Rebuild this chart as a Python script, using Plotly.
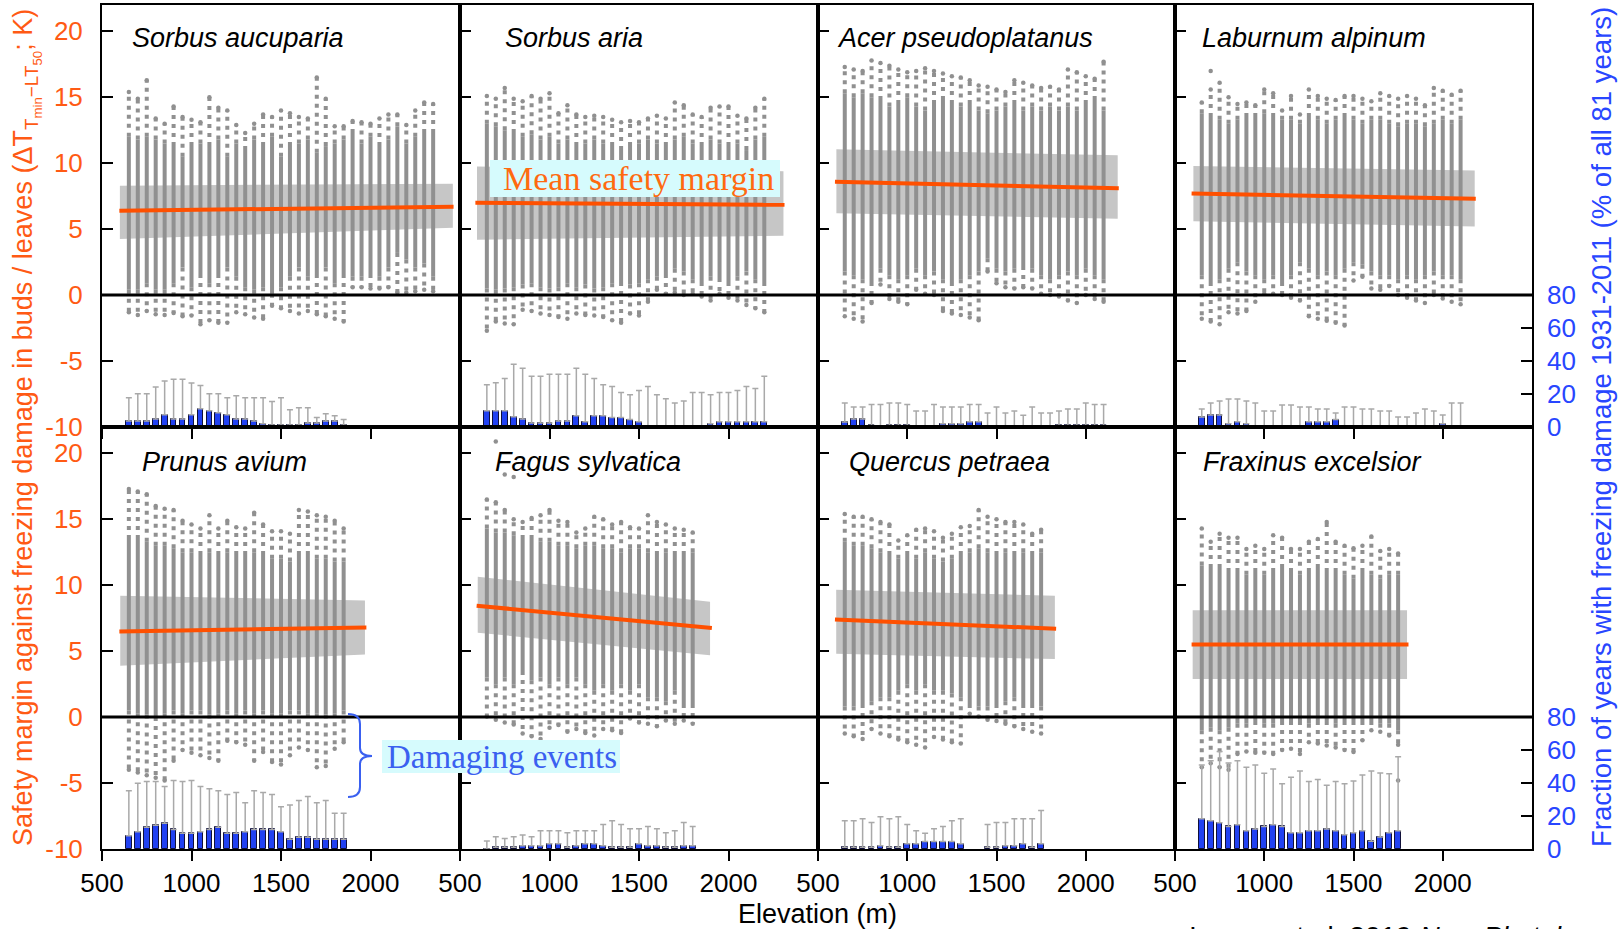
import plotly.graph_objects as go

# ------------------------------------------------------------------ data
SPECIES = ["Sorbus aucuparia", "Sorbus aria", "Acer pseudoplatanus", "Laburnum alpinum",
           "Prunus avium", "Fagus sylvatica", "Quercus petraea", "Fraxinus excelsior"]

X_TICKS = [500, 1000, 1500, 2000]
Y_TICKS = [-10, -5, 0, 5, 10, 15, 20]
Y_TICK_TEXT = ["-10", "-5", "0", "5", "10", "15", "20"]
F_TICKS = [0, 20, 40, 60, 80]

# --- Sorbus aucuparia
ELEV_SAU = [650, 700, 750, 800, 850, 900, 950, 1000, 1050, 1100, 1150, 1200, 1250, 1300, 1350, 1400, 1450,
            1500, 1550, 1600, 1650, 1700, 1750, 1800, 1850, 1900, 1950, 2000, 2050, 2100, 2150, 2200, 2250,
            2300, 2350]
TOP_SAU = [15.4, 14.9, 16.3, 13.4, 13.0, 14.3, 13.5, 13.3, 13.1, 15.0, 14.2, 14.0, 12.9, 12.3, 13.0, 13.7, 13.5,
           14.0, 13.8, 13.5, 13.4, 16.5, 14.9, 12.8, 12.8, 13.2, 13.1, 13.0, 13.4, 13.7, 13.7, 12.9, 14.0, 14.6, 14.5]
HI_SAU = [12.0, 11.8, 12.0, 11.8, 11.5, 11.3, 10.5, 11.3, 11.5, 11.3, 11.8, 10.5, 11.5, 11.0, 11.8, 11.3, 12.0,
          10.5, 11.3, 11.5, 11.8, 10.8, 11.3, 11.5, 11.8, 12.3, 11.5, 12.0, 11.3, 11.8, 12.8, 11.5, 12.0, 12.3, 12.3]
LO_SAU = [0.4, 0.4, 0.9, 0.4, 0.4, 0.9, 2.1, 0.6, 1.6, 0.9, 1.6, 2.1, 1.4, 0.6, 0.4, 0.6, 0.1,
          0.6, 1.4, 2.1, 1.4, 1.6, 2.1, 0.9, 1.6, 1.4, 1.4, 1.6, 1.4, 2.1, 3.2, 2.7, 2.1, 2.4, 1.4]
BOT_SAU = [-1.3, -1.5, -1.2, -1.45, -1.5, -1.35, -1.6, -1.55, -2.2, -1.9, -2.1, -2.1, -1.3, -1.45, -1.7, -1.8,
           -0.8, -1.0, -1.2, -1.4, -1.2, -1.45, -1.6, -1.8, -2.0, 0.6, 0.6, 0.5, 0.5, 0.6, 0.2, 0.2, 0.3, 0.4, 0.3]
FRAC_SAU = [3.7, 3.7, 3.7, 4.9, 7.4, 4.9, 4.9, 7.4, 11.1, 9.9, 8.6, 7.4, 4.9, 4.9, 3.7, 2.0, 1.2,
            1.2, 1.2, 1.2, 2.5, 2.5, 3.7, 3.7, 1.2, None, None, None, None, None, None, None, None, None, None]
WHISK_SAU = [17.8, 20.2, 20.2, 24.3, 27.9, 29.0, 29.0, 26.7, 25.1, 20.2, 20.2, 17.8, 19.0, 17.8, 17.8, 17.8, 15.4,
             17.8, 10.5, 11.7, 11.7, 5.7, 8.1, 6.9, 4.5, None, None, None, None, None, None, None, None, None, None]
OUT_X_SAU = []
OUT_Y_SAU = []
BAND_X_SAU = [600, 2460]
BAND_HI_SAU = [8.3, 8.45]
BAND_LO_SAU = [4.25, 5.1]
MEAN_X_SAU = [597, 2464]
MEAN_SAU = [6.4, 6.7]

# --- Sorbus aria
ELEV_SAR = [650, 700, 750, 800, 850, 900, 950, 1000, 1050, 1100, 1150, 1200, 1250, 1300, 1350, 1400, 1450,
            1500, 1550, 1600, 1650, 1700, 1750, 1800, 1850, 1900, 1950, 2000, 2050, 2100, 2150, 2200]
TOP_SAR = [15.1, 14.9, 15.7, 14.9, 14.7, 15.1, 14.9, 15.3, 13.8, 14.4, 13.7, 13.5, 13.6, 13.5, 13.3, 13.1,
           13.2, 13.1, 13.4, 13.6, 13.4, 14.6, 14.4, 13.7, 13.5, 14.2, 14.3, 14.3, 13.6, 13.4, 14.2, 14.9]
HI_SAR = [13.0, 12.8, 12.5, 12.3, 12.0, 12.2, 11.8, 12.0, 11.5, 11.8, 11.3, 11.5, 11.8, 11.5, 11.3, 11.0,
          11.3, 11.5, 11.8, 11.5, 11.3, 11.8, 12.0, 11.5, 11.3, 11.8, 11.5, 11.3, 11.5, 11.0, 11.8, 12.0]
LO_SAR = [0.5, 0.4, 0.5, 0.6, 0.8, 0.9, 0.6, 0.5, 0.6, 0.9, 0.6, 0.8, 0.5, 0.6, 0.9, 1.0,
          0.8, 0.9, 1.2, 1.4, 1.6, 2.0, 1.8, 1.2, 1.0, 1.4, 1.3, 1.0, 1.4, 1.8, 1.2, 1.0]
BOT_SAR = [-2.7, -2.0, -2.15, -2.2, -1.1, -1.2, -1.4, -1.5, -1.65, -1.8, -1.4, -1.5, -1.55, -1.65, -1.9, -2.1,
           -1.4, -1.55, -0.5, 0.4, 0.1, 0.2, 0.0, 0.1, -0.1, -0.4, 0.1, -0.2, -0.4, -0.75, -1.0, -1.3]
FRAC_SAR = [9.9, 9.9, 9.9, 6.2, 4.9, 2.5, 2.5, 2.5, 3.7, 3.7, 6.9, 3.2, 6.9, 6.9, 5.7, 5.7,
            4.5, 3.2, 0.8, 0, 0, 0, 0, 0.6, 0.6, 2.0, 3.2, 3.2, 3.2, 3.2, 3.2, 3.2]
WHISK_SAR = [25.7, 26.9, 29.4, 38.1, 35.6, 30.8, 30.8, 32.0, 32.0, 32.0, 35.6, 32.0, 29.4, 25.7, 24.5, 20.9,
             19.6, 22.1, 24.5, 19.6, 17.2, 14.6, 15.8, 20.9, 20.9, 19.6, 20.9, 20.9, 22.1, 24.5, 23.3, 30.8]
OUT_X_SAR = []
OUT_Y_SAR = []
BAND_X_SAR = [595, 2307]
BAND_HI_SAR = [9.75, 9.4]
BAND_LO_SAR = [4.2, 4.5]
MEAN_X_SAR = [586, 2313]
MEAN_SAR = [7.0, 6.85]

# --- Acer pseudoplatanus
ELEV_ACE = [650, 700, 750, 800, 850, 900, 950, 1000, 1050, 1100, 1150, 1200, 1250, 1300, 1350, 1400, 1450,
            1500, 1550, 1600, 1650, 1700, 1750, 1800, 1850, 1900, 1950, 2000, 2050, 2100]
TOP_ACE = [17.3, 17.1, 17.0, 17.8, 17.6, 17.4, 17.1, 16.9, 17.0, 17.2, 17.0, 16.8, 16.6, 16.5, 16.3,
           15.9, 15.8, 15.6, 15.4, 16.3, 16.1, 15.9, 15.7, 15.8, 15.6, 17.1, 16.9, 16.6, 16.4, 17.7]
HI_ACE = [15.3, 15.0, 15.3, 15.0, 14.8, 14.3, 14.5, 15.0, 14.3, 14.0, 14.5, 14.8, 14.5, 14.3, 14.5,
          14.0, 13.8, 14.0, 14.3, 14.5, 14.0, 14.3, 14.0, 14.3, 14.0, 14.3, 14.0, 14.5, 14.8, 14.0]
LO_ACE = [1.8, 1.5, 1.2, 1.0, 2.0, 1.5, 1.2, 1.5, 2.0, 1.5, 1.8, 1.2, 1.0, 1.2, 1.5,
          1.8, 2.8, 2.0, 1.8, 2.0, 2.2, 2.0, 1.5, 1.2, 1.5, 1.8, 1.5, 2.0, 1.5, 1.2]
BOT_ACE = [-1.6, -1.8, -2.0, -0.6, 0.8, -0.3, -0.5, -0.7, 0.4, 0.1, 0.0, -1.2, -1.4, -1.5, -1.7,
           -1.9, 1.8, 0.9, 0.6, 0.5, 0.6, 0.5, 0.1, 0.0, -0.1, -0.4, -0.6, 0.0, -0.3, -0.5]
FRAC_ACE = [3.0, 4.9, 4.9, 1.0, 0, 1.0, 1.0, 1.0, 0, 0, 0, 2.0, 2.0, 2.0, 3.2,
            3.2, 0, 0, 0, 0, 0, 0, 0, 0, 1.0, 1.0, 1.0, 1.0, 1.0, 1.0]
WHISK_ACE = [14.6, 12.1, 12.1, 13.6, 13.6, 14.6, 14.6, 13.6, 9.7, 9.7, 13.6, 12.1, 12.1, 12.1, 13.6,
             13.6, 8.5, 12.1, 8.5, 9.7, 7.1, 12.1, 8.5, 8.5, 9.7, 10.9, 10.9, 14.6, 13.6, 13.6]
OUT_X_ACE = []
OUT_Y_ACE = []
BAND_X_ACE = [603, 2179]
BAND_HI_ACE = [11.06, 10.6]
BAND_LO_ACE = [6.2, 5.8]
MEAN_X_ACE = [595, 2185]
MEAN_ACE = [8.6, 8.1]

# --- Laburnum alpinum
ELEV_LAB = [650, 700, 750, 800, 850, 900, 950, 1000, 1050, 1100, 1150, 1200, 1250, 1300, 1350, 1400, 1450,
            1500, 1550, 1600, 1650, 1700, 1750, 1800, 1850, 1900, 1950, 2000, 2050, 2100]
TOP_LAB = [14.6, 15.6, 16.1, 15.0, 14.5, 14.6, 14.4, 15.6, 15.3, 14.0, 15.1, 13.7, 15.6, 15.1, 14.9,
           14.8, 15.1, 15.1, 14.9, 14.7, 15.3, 15.1, 14.9, 15.1, 14.9, 14.4, 15.7, 15.5, 15.2, 15.5]
HI_LAB = [13.8, 13.5, 13.3, 13.0, 13.3, 13.5, 13.5, 13.8, 13.5, 13.3, 13.3, 13.0, 13.5, 13.3, 13.0,
          13.3, 13.5, 13.3, 13.0, 13.3, 13.3, 13.0, 12.8, 13.0, 13.0, 12.8, 13.0, 13.3, 13.0, 13.3]
LO_LAB = [1.5, 1.0, 1.2, 2.0, 2.5, 1.8, 1.5, 1.2, 1.5, 1.0, 1.5, 2.5, 2.0, 1.5, 1.8,
          1.5, 2.0, 2.5, 2.3, 1.8, 1.5, 1.5, 1.2, 1.5, 1.2, 1.5, 1.8, 1.5, 1.5, 1.2]
BOT_LAB = [-1.8, -2.0, -2.2, -1.3, -1.4, -1.2, -0.5, 0.1, 0.1, 0.0, -0.2, -0.4, -1.6, -1.8, -1.95,
           -2.1, -2.3, 1.1, 1.4, 0.5, 0.4, 0.7, 0.0, -0.2, -0.4, -0.6, 0.0, -0.25, -0.5, -0.7]
FRAC_LAB = [6.1, 7.3, 7.3, 2.0, 3.2, 2.0, 0.8, 0, 0, 0, 0.8, 0.8, 3.2, 3.2, 3.2,
            4.5, 0.8, 0, 0, 0, 0, 0, 0, 0.8, 0.8, 0.8, 0.8, 2.0, 0.8, 0.8]
WHISK_LAB = [10.9, 14.6, 15.8, 17.0, 17.0, 15.8, 14.6, 9.7, 9.7, 13.4, 13.4, 12.1, 12.1, 10.9, 10.9,
             8.5, 12.1, 12.1, 10.9, 10.9, 9.7, 9.7, 6.1, 6.1, 8.5, 10.9, 9.7, 7.3, 14.6, 14.6]
OUT_X_LAB = [700]
OUT_Y_LAB = [17.0]
BAND_X_LAB = [603, 2179]
BAND_HI_LAB = [9.8, 9.45]
BAND_LO_LAB = [5.6, 5.2]
MEAN_X_LAB = [593, 2185]
MEAN_LAB = [7.7, 7.3]

# --- Prunus avium
ELEV_PRU = [650, 700, 750, 800, 850, 900, 950, 1000, 1050, 1100, 1150, 1200, 1250, 1300, 1350, 1400, 1450,
            1500, 1550, 1600, 1650, 1700, 1750, 1800, 1850]
TOP_PRU = [17.3, 17.1, 16.9, 16.0, 15.8, 15.7, 14.9, 14.6, 14.3, 15.3, 14.3, 14.9, 14.4,
           14.3, 15.5, 14.6, 14.1, 14.1, 13.9, 15.7, 15.6, 15.3, 15.2, 14.9, 14.3]
HI_PRU = [13.5, 13.5, 13.3, 13.0, 13.0, 12.8, 12.5, 12.5, 12.3, 12.5, 12.3, 12.5, 12.3,
          12.3, 12.5, 12.3, 12.0, 12.0, 11.8, 12.3, 12.3, 12.0, 12.0, 11.8, 11.8]
LO_PRU = [0.5, 0.3, 0.2, 0.0, 0.3, 0.5, 0.3, 0.5, 0.5, 0.2, 0.3, 0.5, 0.3,
          0.5, 0.3, 0.5, 0.3, 0.3, 0.5, 0.5, 0.3, 0.3, 0.2, 0.3, 0.5]
BOT_PRU = [-4.0, -4.2, -4.4, -4.6, -4.8, -3.3, -2.5, -2.7, -2.9, -3.1, -3.3, -1.8, -1.9,
           -2.1, -3.3, -2.65, -3.4, -3.6, -2.9, -2.3, -2.5, -3.8, -3.7, -2.4, -1.9]
FRAC_PRU = [8.1, 10.5, 13.2, 14.4, 15.6, 11.9, 9.5, 9.5, 10.5, 11.9, 13.2, 9.5, 9.5,
            10.5, 11.9, 11.9, 11.9, 10.5, 5.9, 7.1, 7.1, 5.9, 5.9, 5.9, 5.9]
WHISK_PRU = [35.4, 39.9, 40.9, 40.9, 37.9, 41.5, 40.9, 41.5, 37.9, 36.6, 35.4, 33.0, 34.2,
             28.1, 35.4, 34.2, 33.0, 25.7, 26.7, 29.4, 31.8, 28.1, 29.4, 21.7, 21.7]
OUT_X_PRU = []
OUT_Y_PRU = []
BAND_X_PRU = [602, 1969]
BAND_HI_PRU = [9.2, 8.85]
BAND_LO_PRU = [3.9, 4.75]
MEAN_X_PRU = [597, 1977]
MEAN_PRU = [6.5, 6.8]

# --- Fagus sylvatica
ELEV_FAG = [650, 700, 750, 800, 850, 900, 950, 1000, 1050, 1100, 1150, 1200, 1250, 1300, 1350, 1400, 1450,
            1500, 1550, 1600, 1650, 1700, 1750, 1800]
TOP_FAG = [16.5, 16.3, 15.7, 15.0, 14.8, 15.1, 15.3, 15.7, 14.9, 14.8, 14.0, 14.3,
           15.2, 15.0, 14.6, 14.8, 14.4, 14.3, 15.3, 14.8, 14.6, 14.3, 14.2, 14.0]
HI_FAG = [14.3, 14.0, 14.0, 13.8, 13.5, 13.5, 13.3, 13.3, 13.0, 13.0, 12.8, 13.0,
          13.0, 12.8, 12.8, 12.5, 12.8, 12.8, 12.5, 12.3, 12.5, 12.3, 12.3, 12.5]
LO_FAG = [3.0, 2.5, 3.0, 2.5, 3.5, 2.8, 3.0, 2.5, 3.0, 2.5, 3.0, 2.5,
          2.0, 2.5, 2.0, 2.5, 2.0, 2.5, 1.5, 1.5, 1.2, 2.0, 1.0, 1.0]
BOT_FAG = [0.05, -0.2, -0.4, -0.55, -1.25, -1.45, -1.65, -0.8, -0.6, -1.1, -0.9, -1.2,
           -1.4, -0.9, -1.0, -1.2, -0.1, -0.4, -0.5, -0.7, -0.25, -0.5, -0.25, -0.5]
FRAC_FAG = [0, 1.0, 1.0, 1.0, 2.0, 2.0, 2.0, 3.2, 3.2, 1.0, 2.0, 3.2,
            3.2, 2.0, 1.0, 1.0, 1.0, 3.2, 2.0, 2.0, 1.0, 1.0, 2.0, 2.0]
WHISK_FAG = [4.9, 7.5, 6.3, 7.5, 8.5, 7.5, 11.1, 11.1, 11.1, 9.9, 11.1, 11.1,
             11.1, 14.8, 17.2, 14.8, 12.3, 12.3, 13.6, 12.3, 9.9, 11.1, 16.0, 13.6]
OUT_X_FAG = [700, 750, 800]
OUT_Y_FAG = [20.9, 18.4, 18.2]
BAND_X_FAG = [599, 1897]
BAND_HI_FAG = [10.65, 8.75]
BAND_LO_FAG = [6.4, 4.7]
MEAN_X_FAG = [593, 1907]
MEAN_FAG = [8.45, 6.75]

# --- Quercus petraea
ELEV_QUE = [650, 700, 750, 800, 850, 900, 950, 1000, 1050, 1100, 1150, 1200, 1250, 1300, 1350, 1400, 1450,
            1500, 1550, 1600, 1650, 1700, 1750]
TOP_QUE = [15.4, 15.2, 15.2, 15.0, 14.8, 14.6, 13.4, 13.8, 14.2, 14.3, 14.1, 13.6,
           13.9, 14.4, 14.5, 15.7, 15.2, 15.0, 14.8, 14.8, 14.6, 13.9, 14.2]
HI_QUE = [13.3, 13.0, 13.0, 12.8, 12.5, 12.3, 12.0, 12.3, 12.0, 12.5, 12.0, 11.8,
          12.0, 12.3, 12.5, 12.8, 12.5, 12.3, 12.5, 12.3, 12.5, 12.3, 12.5]
LO_QUE = [0.8, 0.8, 1.0, 1.2, 1.5, 1.5, 2.0, 2.5, 2.0, 2.5, 2.0, 2.0,
          1.8, 1.5, 1.0, 0.8, 0.8, 1.0, 1.2, 1.5, 1.0, 1.0, 0.8]
BOT_QUE = [-1.25, -1.45, -1.65, -0.9, -1.25, -1.45, -1.7, -1.9, -2.1, -2.3, -1.5, -1.7,
           -1.9, -2.0, 0.25, 0.05, -0.2, -0.3, -0.5, -0.7, -0.9, -1.1, -1.25]
FRAC_QUE = [1.0, 1.0, 1.0, 1.0, 2.0, 1.0, 1.0, 3.2, 3.2, 4.5, 4.5, 4.5,
            4.5, 3.2, None, None, 1.0, 1.0, 2.0, 2.0, 3.2, 1.0, 3.2]
WHISK_QUE = [17.2, 17.2, 18.4, 16.0, 19.6, 18.4, 19.6, 14.8, 11.1, 9.5, 12.3, 13.6,
             17.2, 18.4, None, None, 14.8, 16.0, 16.0, 18.4, 18.4, 18.4, 23.3]
OUT_X_QUE = []
OUT_Y_QUE = []
BAND_X_QUE = [602, 1827]
BAND_HI_QUE = [9.65, 9.2]
BAND_LO_QUE = [4.8, 4.4]
MEAN_X_QUE = [595, 1834]
MEAN_QUE = [7.4, 6.7]

# --- Fraxinus excelsior
ELEV_FRA = [650, 700, 750, 800, 850, 900, 950, 1000, 1050, 1100, 1150, 1200, 1250, 1300, 1350, 1400, 1450,
            1500, 1550, 1600, 1650, 1700, 1750]
TOP_FRA = [14.3, 13.3, 13.9, 13.6, 13.6, 12.75, 13.0, 12.75, 13.8, 13.6, 12.75, 12.75,
           13.3, 13.5, 14.8, 13.3, 13.0, 12.8, 13.0, 13.7, 12.6, 12.75, 12.4]
HI_FRA = [11.5, 11.3, 11.3, 11.0, 11.0, 10.8, 11.0, 10.8, 11.0, 11.3, 11.0, 10.8,
          11.0, 11.3, 11.0, 11.0, 10.8, 10.5, 11.0, 10.8, 10.5, 10.8, 10.8]
LO_FRA = [-1.0, -0.8, -1.0, -0.8, -0.5, -0.5, -0.3, -0.5, -0.5, -0.3, -0.3, -0.3,
          -0.5, -0.3, -0.3, -0.5, -0.3, -0.3, -0.3, -0.3, -0.5, -0.5, -1.0]
BOT_FRA = [-3.8, -3.5, -3.8, -4.0, -2.8, -2.6, -2.7, -2.7, -2.8, -2.5, -2.4, -2.8,
           -1.9, -2.0, -2.15, -2.3, -2.5, -2.65, -1.75, -1.0, -1.1, -1.4, -2.1]
FRAC_FRA = [18.4, 17.1, 15.9, 13.7, 14.7, 11.0, 12.2, 13.7, 14.7, 13.7, 9.8, 9.8,
            11.0, 11.0, 12.2, 11.0, 8.6, 9.8, 11.0, 4.7, 7.3, 9.8, 11.0]
WHISK_FRA = [51.0, 53.5, 59.2, 52.2, 53.5, 49.6, 51.0, 45.9, 48.6, 39.6, 43.5, 47.3,
             41.0, 42.2, 38.6, 41.0, 39.6, 41.2, 44.9, 47.3, 46.1, 45.7, 55.9]
OUT_X_FRA = [1750]
OUT_Y_FRA = [-4.8]
BAND_X_FRA = [599, 1800]
BAND_HI_FRA = [8.1, 8.1]
BAND_LO_FRA = [2.9, 2.9]
MEAN_X_FRA = [593, 1808]
MEAN_FRA = [5.5, 5.5]

PANELS = [
    (ELEV_SAU, TOP_SAU, HI_SAU, LO_SAU, BOT_SAU, FRAC_SAU, WHISK_SAU, OUT_X_SAU, OUT_Y_SAU, BAND_X_SAU, BAND_HI_SAU, BAND_LO_SAU, MEAN_X_SAU, MEAN_SAU),
    (ELEV_SAR, TOP_SAR, HI_SAR, LO_SAR, BOT_SAR, FRAC_SAR, WHISK_SAR, OUT_X_SAR, OUT_Y_SAR, BAND_X_SAR, BAND_HI_SAR, BAND_LO_SAR, MEAN_X_SAR, MEAN_SAR),
    (ELEV_ACE, TOP_ACE, HI_ACE, LO_ACE, BOT_ACE, FRAC_ACE, WHISK_ACE, OUT_X_ACE, OUT_Y_ACE, BAND_X_ACE, BAND_HI_ACE, BAND_LO_ACE, MEAN_X_ACE, MEAN_ACE),
    (ELEV_LAB, TOP_LAB, HI_LAB, LO_LAB, BOT_LAB, FRAC_LAB, WHISK_LAB, OUT_X_LAB, OUT_Y_LAB, BAND_X_LAB, BAND_HI_LAB, BAND_LO_LAB, MEAN_X_LAB, MEAN_LAB),
    (ELEV_PRU, TOP_PRU, HI_PRU, LO_PRU, BOT_PRU, FRAC_PRU, WHISK_PRU, OUT_X_PRU, OUT_Y_PRU, BAND_X_PRU, BAND_HI_PRU, BAND_LO_PRU, MEAN_X_PRU, MEAN_PRU),
    (ELEV_FAG, TOP_FAG, HI_FAG, LO_FAG, BOT_FAG, FRAC_FAG, WHISK_FAG, OUT_X_FAG, OUT_Y_FAG, BAND_X_FAG, BAND_HI_FAG, BAND_LO_FAG, MEAN_X_FAG, MEAN_FAG),
    (ELEV_QUE, TOP_QUE, HI_QUE, LO_QUE, BOT_QUE, FRAC_QUE, WHISK_QUE, OUT_X_QUE, OUT_Y_QUE, BAND_X_QUE, BAND_HI_QUE, BAND_LO_QUE, MEAN_X_QUE, MEAN_QUE),
    (ELEV_FRA, TOP_FRA, HI_FRA, LO_FRA, BOT_FRA, FRAC_FRA, WHISK_FRA, OUT_X_FRA, OUT_Y_FRA, BAND_X_FRA, BAND_HI_FRA, BAND_LO_FRA, MEAN_X_FRA, MEAN_FRA),
]

# ------------------------------------------------------------------ style / layout
W, H = 1622, 929
COL_PX = [102, 460, 818, 1175, 1532]
ROW_PX = [5, 427, 849]
TITLE_PX = [(130, 38), (503, 38), (835, 38), (1200, 38), (140, 462), (493, 462), (847, 462), (1201, 462)]

SANS = "Liberation Sans, Arial, sans-serif"
SERIF = "Liberation Serif, Times New Roman, serif"
ORANGE_TXT = "#ff5a14"
ORANGE_LINE = "#ff5000"
BLUE_TXT = "#2846ff"
DOT = "#909090"
BAND = "#c6c6c6"
BAR = "#2141f2"


def px(x):
    return x / W


def py(y):
    return 1 - y / H


def ax_id(letter, n):
    return letter if n == 1 else f"{letter}{n}"


def ax_key(letter, n):
    return f"{letter}axis" if n == 1 else f"{letter}axis{n}"


fig = go.Figure()
layout = dict(width=W, height=H, autosize=False, margin=dict(l=0, r=0, t=0, b=0, pad=0, autoexpand=False),
              paper_bgcolor="white", plot_bgcolor="rgba(0,0,0,0)", showlegend=False, bargap=0)
shapes = []
annotations = []

for i, (elev, top, hi, lo, bot, frac, whisk, ox, oy, bx, bhi, blo, mx, mean) in enumerate(PANELS):
    r, c = divmod(i, 4)
    xa, ya, fa = ax_id("x", i + 1), ax_id("y", i + 1), ax_id("y", i + 9)
    xdom = [px(COL_PX[c]), px(COL_PX[c + 1])]
    ydom = [py(ROW_PX[r + 1]), py(ROW_PX[r])]

    # SD band
    fig.add_trace(go.Scatter(x=[bx[0], bx[1], bx[1], bx[0], bx[0]],
                             y=[blo[0], blo[1], bhi[1], bhi[0], blo[0]],
                             fill="toself", fillcolor=BAND, mode="lines", line=dict(width=0),
                             xaxis=xa, yaxis=ya, hoverinfo="skip"))
    # dense part of each column of yearly points
    sx, sy = [], []
    for e, a, b in zip(elev, lo, hi):
        sx += [e, e, None]
        sy += [a, b, None]
    fig.add_trace(go.Scatter(x=sx, y=sy, mode="lines", line=dict(color=DOT, width=4),
                             xaxis=xa, yaxis=ya, hoverinfo="skip"))
    # sparse tails
    tx, ty = [], []
    for e, t, h, l, b in zip(elev, top, hi, lo, bot):
        tx += [e, e, None, e, e, None]
        ty += [h, t, None, l, b, None]
    fig.add_trace(go.Scatter(x=tx, y=ty, mode="lines", line=dict(color=DOT, width=4, dash="4px,5px"),
                             xaxis=xa, yaxis=ya, hoverinfo="skip"))
    # extremes and isolated outliers
    fig.add_trace(go.Scatter(x=list(elev) + list(elev) + list(ox), y=list(top) + list(bot) + list(oy),
                             mode="markers", marker=dict(color=DOT, size=4.5),
                             xaxis=xa, yaxis=ya, hoverinfo="skip"))
    # mean line
    fig.add_trace(go.Scatter(x=mx, y=mean, mode="lines", line=dict(color=ORANGE_LINE, width=4),
                             xaxis=xa, yaxis=ya, hoverinfo="skip"))
    # fraction bars with upward whiskers
    err = [(w - f) if (w is not None and f is not None) else 0 for f, w in zip(frac, whisk)]
    fig.add_trace(go.Bar(x=elev, y=frac, width=32, marker=dict(color=BAR, line=dict(color="#10103a", width=1)),
                         error_y=dict(type="data", symmetric=False, array=err, arrayminus=[0] * len(err),
                                      color="#a9a9a9", thickness=1.5, width=3),
                         xaxis=xa, yaxis=fa, hoverinfo="skip"))

    layout[ax_key("x", i + 1)] = dict(domain=xdom, anchor=ya, range=[500, 2500], tickvals=X_TICKS,
                                      ticks="outside", ticklen=10, tickwidth=2, tickcolor="black",
                                      showline=True, linecolor="black", linewidth=2, mirror=True,
                                      showgrid=False, zeroline=False, showticklabels=(r == 1),
                                      automargin=False,
                                      tickfont=dict(family=SANS, size=26, color="black"))
    layout[ax_key("y", i + 1)] = dict(domain=ydom, anchor=xa, range=[-10, 22], tickvals=Y_TICKS,
                                      ticktext=Y_TICK_TEXT, ticks="inside", ticklen=11, tickwidth=2,
                                      tickcolor="black", showline=True, linecolor="black", linewidth=2,
                                      mirror=True, showgrid=False, zeroline=False, showticklabels=(c == 0),
                                      ticklabelstandoff=12, automargin=False,
                                      tickfont=dict(family=SANS, size=26, color=ORANGE_TXT))
    fdict = dict(overlaying=ya, anchor=xa, side="right", range=[0, 256], showgrid=False, zeroline=False,
                 automargin=False)
    if c == 3:
        fdict.update(tickvals=F_TICKS, ticks="inside", ticklen=11, tickwidth=2, tickcolor="black",
                     showline=False, ticklabelstandoff=14,
                     tickfont=dict(family=SANS, size=26, color=BLUE_TXT))
    else:
        fdict.update(visible=False)
    layout[ax_key("y", i + 9)] = fdict

    shapes.append(dict(type="line", xref=f"{xa} domain", x0=0, x1=1, yref=ya, y0=0, y1=0,
                       line=dict(color="black", width=3), layer="above"))
    tx0, ty0 = TITLE_PX[i]
    annotations.append(dict(text=f"<i>{SPECIES[i]}</i>", xref="paper", yref="paper", x=px(tx0), y=py(ty0),
                            xanchor="left", yanchor="middle", showarrow=False,
                            font=dict(family=SANS, size=27, color="black")))

# call-out boxes
shapes.append(dict(type="rect", xref="paper", yref="paper", x0=px(490), x1=px(780), y0=py(197), y1=py(160),
                   fillcolor="#d6fbfd", line=dict(width=0), layer="above"))
annotations.append(dict(text="Mean safety margin", xref="paper", yref="paper", x=px(638), y=py(179),
                        xanchor="center", yanchor="middle", showarrow=False,
                        font=dict(family=SERIF, size=34, color="#ff6a10")))
shapes.append(dict(type="rect", xref="paper", yref="paper", x0=px(382), x1=px(620), y0=py(773), y1=py(740),
                   fillcolor="#d6fbfd", line=dict(width=0), layer="above"))
annotations.append(dict(text="Damaging events", xref="paper", yref="paper", x=px(502), y=py(757),
                        xanchor="center", yanchor="middle", showarrow=False,
                        font=dict(family=SERIF, size=33, color="#3a60f0")))
# curly brace
bp = [(348, 714), (360, 714), (360, 724), (360, 748), (360, 756), (372, 756), (360, 756), (360, 764),
      (360, 787), (360, 797), (348, 797)]
P = [(px(a), py(b)) for a, b in bp]
path = (f"M {P[0][0]},{P[0][1]} Q {P[1][0]},{P[1][1]} {P[2][0]},{P[2][1]} L {P[3][0]},{P[3][1]} "
        f"Q {P[4][0]},{P[4][1]} {P[5][0]},{P[5][1]} Q {P[6][0]},{P[6][1]} {P[7][0]},{P[7][1]} "
        f"L {P[8][0]},{P[8][1]} Q {P[9][0]},{P[9][1]} {P[10][0]},{P[10][1]}")
shapes.append(dict(type="path", xref="paper", yref="paper", path=path,
                   line=dict(color="#3a60f0", width=2), layer="above"))

# axis titles
annotations.append(dict(text="Safety margin against freezing damage in buds / leaves "
                             "(ΔT<sub>T<sub>min</sub>−LT<sub>50</sub></sub>; K)",
                        xref="paper", yref="paper", x=px(26), y=py(428), textangle=-90,
                        xanchor="center", yanchor="middle", showarrow=False,
                        font=dict(family=SANS, size=27, color=ORANGE_TXT)))
annotations.append(dict(text="Fraction of years with freezing damage 1931-2011 (% of all 81 years)",
                        xref="paper", yref="paper", x=px(1601), y=py(427), textangle=-90,
                        xanchor="center", yanchor="middle", showarrow=False,
                        font=dict(family=SANS, size=27.5, color=BLUE_TXT)))
annotations.append(dict(text="Elevation (m)", xref="paper", yref="paper", x=px(817), y=py(914),
                        xanchor="center", yanchor="middle", showarrow=False,
                        font=dict(family=SANS, size=27, color="black")))
annotations.append(dict(text="Inouye et al. 2019 <i>New Phytol</i>", xref="paper", yref="paper",
                        x=px(1187), y=py(919), xanchor="left", yanchor="top", showarrow=False,
                        font=dict(family=SANS, size=28, color="black")))

layout["shapes"] = shapes
layout["annotations"] = annotations
fig.update_layout(**layout)
fig.write_html("out.html", config={"displayModeBar": False})
